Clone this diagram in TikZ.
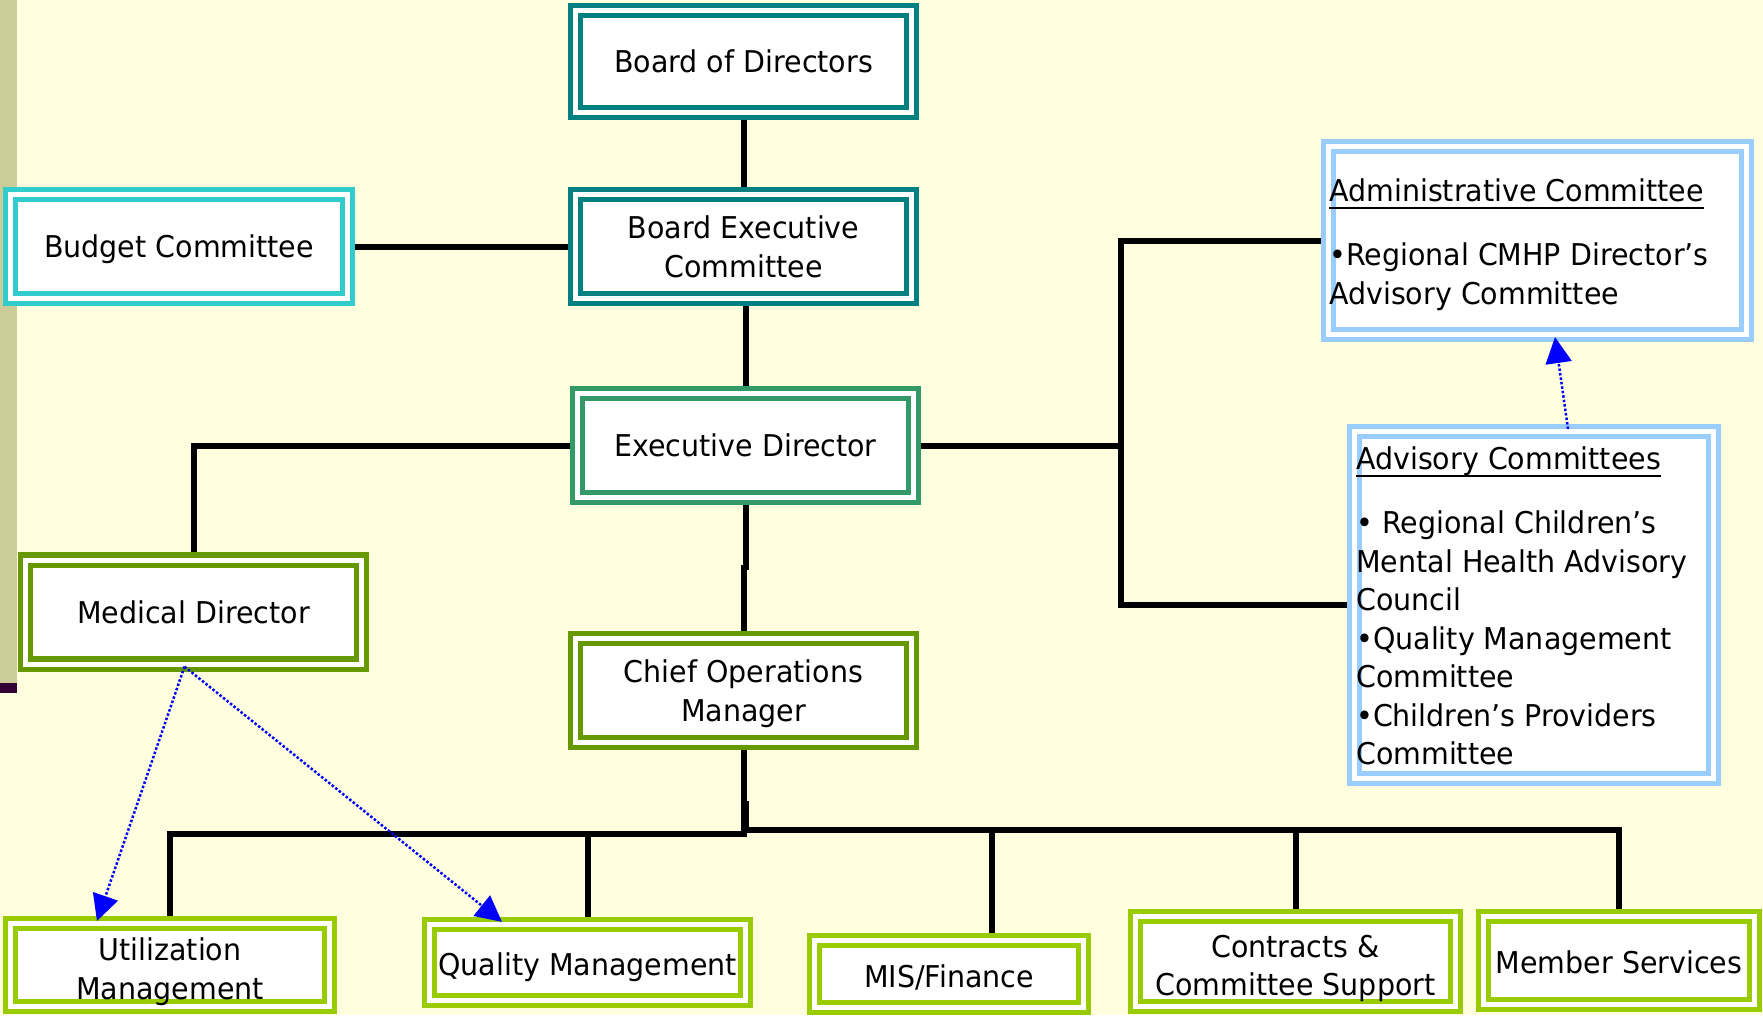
\documentclass[tikz,border=0pt]{standalone}
\usepackage{fontspec}
\setmainfont{DejaVu Sans}[FakeStretch=0.95]
\usetikzlibrary{arrows.meta}
\definecolor{paper}{HTML}{FFFFDF}
\definecolor{strip}{HTML}{CCCC99}
\definecolor{plum}{HTML}{330033}
\definecolor{boardteal}{HTML}{008080}
\definecolor{budgetcyan}{HTML}{33CCCC}
\definecolor{execgreen}{HTML}{339966}
\definecolor{mgrgreen}{HTML}{669900}
\definecolor{unitgreen}{HTML}{99CC00}
\definecolor{skyblue}{HTML}{99CCFF}
\pgfdeclarelayer{wires}
\pgfsetlayers{wires,main}
\newcommand\boxfont{\fontsize{30}{38.5}\selectfont}
\newcommand\ulhead[1]{\setbox0\hbox{#1}\rlap{\rule[-7pt]{\wd0}{2pt}}\box0}
\tikzset{
  orgbox/.style={draw=#1, double=white, double distance=5pt, line width=5.2pt, fill=white,
    inner sep=0pt, align=center, font=\boxfont, text depth=0pt},
  unitbox/.style={orgbox=unitgreen, text height=26.5pt},
  unitpair/.style={orgbox=unitgreen, text height=68pt},
  link/.style={line width=6pt},
  hint/.style={blue, line width=2.5pt, dash pattern=on 2.5pt off 2pt,
    -{Triangle[length=26pt,width=26pt]}},
  listtext/.style={anchor=north west, inner sep=0pt, align=left, font=\boxfont},
}

\begin{document}
\begin{tikzpicture}[x=1pt,y=-1pt]
\useasboundingbox (0,0) rectangle (1763,1015);
\node[orgbox=boardteal, minimum width=336pt, minimum height=102pt] (board) at (743.5,61.5) {Board of Directors};
\node[orgbox=boardteal, minimum width=336pt, minimum height=104pt] (boardexec) at (743.5,246.5) {Board Executive\\Committee};
\node[orgbox=budgetcyan, minimum width=337pt, minimum height=104pt] (budget) at (179,246.5) {Budget Committee};
\node[orgbox=execgreen, minimum width=336pt, minimum height=104pt] (execdir) at (745.5,445.5) {Executive Director};
\node[orgbox=mgrgreen, minimum width=336pt, minimum height=104pt] (meddir) at (193.5,612) {Medical Director};
\node[orgbox=mgrgreen, minimum width=336pt, minimum height=104pt] (chiefops) at (743.5,690.5) {Chief Operations\\Manager};
\node[orgbox=skyblue, minimum width=418pt, minimum height=188pt] (admin) at (1537.5,240.5) {};
\node[orgbox=skyblue, minimum width=359pt, minimum height=347pt] (advisory) at (1534,605) {};
\node[unitpair, minimum width=319pt, minimum height=83pt] (utilmgmt) at (170,965) {Utilization\\Management};
\node[unitbox, minimum width=316pt, minimum height=76pt] (qualmgmt) at (587.5,962.5) {Quality Management};
\node[unitbox, minimum width=269pt, minimum height=67pt] (misfin) at (949,974) {MIS/Finance};
\node[unitpair, minimum width=320pt, minimum height=90pt] (contracts) at (1295.5,961.5) {Contracts \&\\Committee Support};
\node[unitbox, minimum width=271pt, minimum height=88pt] (members) at (1619,960.5) {Member Services};

\node[listtext] (admintext) at (1329,179) {\ulhead{Administrative Committee}\\[25.5pt]•Regional CMHP Director’s\\Advisory Committee};
\node[listtext] (advisorytext) at (1356,446.5) {\ulhead{Advisory Committees}\\[25.5pt]• Regional Children’s\\Mental Health Advisory\\Council\\•Quality Management\\Committee\\•Children’s Providers\\Committee};

\begin{pgfonlayer}{wires}
\fill[paper] (0,0) rectangle (1763,1015);
\fill[strip] (0,0) rectangle (17,683);
\fill[plum] (0,683) rectangle (17,693);
\draw[link] (board) -- (boardexec);
\draw[link] (budget) -- (boardexec);
\draw[link] (execdir.north) -- (execdir.north |- boardexec.south);
\draw[link] (execdir) -| (meddir);
\coordinate (rightbus) at (1121,445.5);
\draw[link] (execdir) -- (rightbus);
\draw[link] (admin) -| (rightbus) |- (advisory);
\draw[link] (execdir) -- (745.5,570);
\draw[link] (743.5,565) -- (chiefops);
\coordinate (lowbus) at (743.5,834);
\coordinate (highbus) at (745.5,830);
\draw[link] (chiefops) -- (lowbus) -| (utilmgmt);
\draw[link] (qualmgmt |- lowbus) -- (qualmgmt);
\draw[link] (745.5,801) -- (highbus) -| (members);
\draw[link] (contracts |- highbus) -- (contracts);
\coordinate (misdrop) at (992,830);
\draw[link] (misdrop) -- (misdrop |- misfin.north);
\end{pgfonlayer}

\draw[hint] ([xshift=-9pt]meddir.south) -- ([xshift=-73pt]utilmgmt.north);
\draw[hint] ([xshift=-9pt]meddir.south) -- ([xshift=-85.5pt]qualmgmt.north);
\draw[hint] ([xshift=34pt]advisory.north) -- ([xshift=17.5pt]admin.south);
\end{tikzpicture}
\end{document}
